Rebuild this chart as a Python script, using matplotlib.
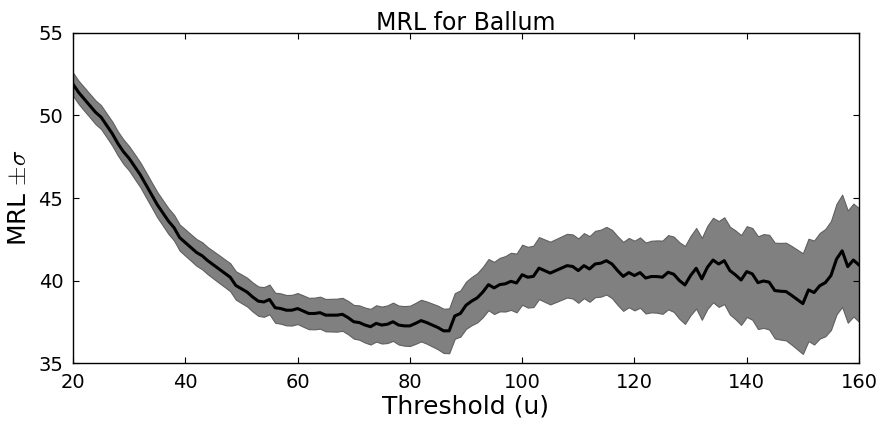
import numpy as np
import matplotlib
matplotlib.use("Agg")
import matplotlib.pyplot as plt

plt.rcParams["mathtext.fontset"] = "cm"

# thresholds and mean residual life estimates
u = np.arange(20, 161)

mrl = [51.9, 51.4, 51.0, 50.6, 50.2, 49.9, 49.4, 48.9, 48.3, 47.8,
       47.4, 46.9, 46.4, 45.8, 45.2, 44.6, 44.1, 43.6, 43.2, 42.6,
       42.3, 42.0, 41.7, 41.5, 41.2, 40.95, 40.7, 40.45, 40.2, 39.7,
       39.5, 39.3, 39.0, 38.75, 38.7, 38.85, 38.35, 38.3, 38.2, 38.2,
       38.3, 38.15, 38.0, 38.0, 38.05, 37.9, 37.9, 37.9, 37.95, 37.75,
       37.5, 37.45, 37.3, 37.2, 37.4, 37.3, 37.35, 37.5, 37.3, 37.25,
       37.25, 37.4, 37.57, 37.45, 37.3, 37.15, 36.95, 36.95, 37.85, 38.0,
       38.5, 38.75, 38.95, 39.3, 39.75, 39.55, 39.75, 39.8, 39.95, 39.85,
       40.35, 40.2, 40.25, 40.75, 40.6, 40.45, 40.6, 40.75, 40.9, 40.85,
       40.6, 40.9, 40.7, 41.0, 41.05, 41.2, 41.0, 40.6, 40.25, 40.48,
       40.3, 40.48, 40.15, 40.24, 40.24, 40.2, 40.5, 40.38, 40.0, 39.73,
       40.3, 40.74, 40.1, 40.8, 41.24, 41.0, 41.2, 40.6, 40.34, 40.03,
       40.54, 40.4, 39.87, 39.97, 39.9, 39.39, 39.35, 39.33, 39.1, 38.85,
       38.6, 39.43, 39.27, 39.68, 39.87, 40.3, 41.3, 41.8, 40.84, 41.24,
       40.94]

sigma = [0.70, 0.70, 0.71, 0.71, 0.72, 0.72, 0.72, 0.73, 0.73, 0.74,
         0.74, 0.75, 0.75, 0.76, 0.76, 0.77, 0.77, 0.78, 0.78, 0.79,
         0.80, 0.80, 0.81, 0.82, 0.82, 0.83, 0.84, 0.84, 0.85, 0.86,
         0.87, 0.87, 0.88, 0.89, 0.90, 0.90, 0.91, 0.92, 0.92, 0.93,
         0.94, 0.95, 0.95, 0.96, 0.97, 0.98, 0.99, 1.00, 1.00, 1.01,
         1.02, 1.04, 1.06, 1.08, 1.10, 1.12, 1.14, 1.16, 1.18, 1.20,
         1.22, 1.24, 1.26, 1.28, 1.30, 1.32, 1.34, 1.36, 1.38, 1.40,
         1.43, 1.46, 1.49, 1.52, 1.55, 1.58, 1.62, 1.68, 1.73, 1.78,
         1.82, 1.84, 1.86, 1.88, 1.89, 1.90, 1.91, 1.92, 1.93, 1.94,
         1.95, 1.97, 1.99, 2.01, 2.03, 2.05, 2.07, 2.08, 2.09, 2.10,
         2.11, 2.13, 2.15, 2.17, 2.19, 2.22, 2.25, 2.28, 2.32, 2.36,
         2.40, 2.44, 2.48, 2.52, 2.56, 2.60, 2.63, 2.66, 2.69, 2.72,
         2.75, 2.78, 2.81, 2.84, 2.87, 2.90, 2.93, 2.96, 2.99, 3.02,
         3.05, 3.10, 3.15, 3.20, 3.25, 3.30, 3.35, 3.40, 3.40, 3.42,
         3.44]

mrl = np.array(mrl)
sigma = np.array(sigma)

fig = plt.figure(figsize=(8.78, 4.23), dpi=100)
ax = fig.add_axes([73/878, 1 - 363/423, (859-73)/878, (363-33)/423])

ax.fill_between(u, mrl - sigma, mrl + sigma, facecolor="#808080",
                edgecolor="#606060", linewidth=0.8)
ax.plot(u, mrl, color="k", linewidth=2.2)

ax.set_xlim(20, 160)
ax.set_ylim(35, 55)
ax.set_xticks([20, 40, 60, 80, 100, 120, 140, 160])
ax.set_yticks([35, 40, 45, 50, 55])
for s in ax.spines.values():
    s.set_linewidth(1.0)
ax.tick_params(direction="in", top=True, right=True, labelsize=14,
               length=4, width=0.8, pad=7)
ax.set_title("MRL for Ballum", fontsize=17, pad=2)
ax.set_xlabel("Threshold (u)", fontsize=18, labelpad=2)
ax.set_ylabel(r"MRL $\pm\sigma$", fontsize=18, labelpad=5)

fig.savefig("out.png", dpi=100)
